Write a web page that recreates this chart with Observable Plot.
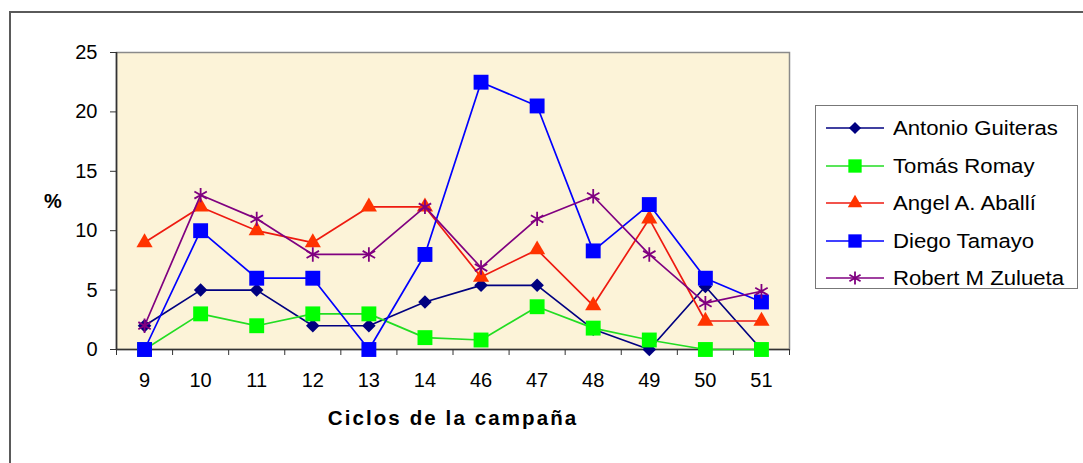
<!DOCTYPE html>
<html>
<head>
<meta charset="utf-8">
<script src="https://cdn.jsdelivr.net/npm/d3@7"></script>
<script src="https://cdn.jsdelivr.net/npm/@observablehq/plot@0.6"></script>
<style>
  html, body { margin: 0; padding: 0; background: #fff; }
  body { font-family: "Liberation Sans", Arial, sans-serif; }
  #wrap { position: relative; width: 1083px; height: 463px; overflow: hidden; }
  #border { position: absolute; left: 9px; top: 11px; right: -10px; bottom: -10px; border: 2px solid #5a5a5a; pointer-events: none; }
  #legend { position: absolute; left: 815px; top: 105px; width: 263px; height: 184px; border: 1px solid #777; background: #fff; box-sizing: border-box; }
  .entry { position: absolute; left: 9px; height: 24px; display: flex; align-items: center; }
  .entry svg { display: block; }
  .entry span { display: inline-block; font-size: 20.5px; color: #000; margin-left: 8px; transform: scaleX(1.08); transform-origin: left center; white-space: nowrap; }
</style>
</head>
<body>
<div id="wrap"></div>
<script>
// ---- data ----
const categories = ["9", "10", "11", "12", "13", "14", "46", "47", "48", "49", "50", "51"];
const seriesNames = ["Antonio Guiteras", "Tomás Romay", "Angel A. Aballí", "Diego Tamayo", "Robert M Zulueta"];
const antonioGuiteras = [2, 5, 5, 2, 2, 4, 5.4, 5.4, 1.7, 0, 5.3, 0];
const tomasRomay      = [0, 3, 2, 3, 3, 1, 0.8, 3.6, 1.8, 0.8, 0, 0];
const angelAballi     = [9, 12, 10, 9, 12, 12, 6.1, 8.4, 3.7, 11, 2.4, 2.4];
const diegoTamayo     = [0, 10, 6, 6, 0, 8, 22.5, 20.5, 8.3, 12.2, 6, 4];
const robertZulueta   = [2, 13, 11, 8, 8, 12, 6.9, 11, 12.9, 8, 3.9, 4.9];
const yTicks = [0, 5, 10, 15, 20, 25];
const yLabel = "%";
const xTitle = "Ciclos de la campaña";

// ---- styles ----
const styles = [
  {line: "#000080", fill: "#000080", stroke: "none", symbol: "diamond2", r: 6.1, sym: d3.symbolDiamond2},
  {line: "#22dd22", fill: "#00ff00", stroke: "none", symbol: "square", r: 8.4, sym: d3.symbolSquare},
  {line: "#ee1a10", fill: "#ff3300", stroke: "none", symbol: "triangle", r: 6.0, sym: d3.symbolTriangle},
  {line: "#0000ff", fill: "#0000ff", stroke: "none", symbol: "square", r: 8.4, sym: d3.symbolSquare},
  {line: "#800080", fill: "none", stroke: "#800080", symbol: "asterisk", r: 6.8, sym: d3.symbolAsterisk}
];
const allValues = [antonioGuiteras, tomasRomay, angelAballi, diegoTamayo, robertZulueta];

const series = allValues.map((vals, s) => vals.map((v, i) => ({i, v, s})));

const marks = [
  Plot.frame({fill: "#fcf3d8", stroke: "#8a8a8a", strokeWidth: 1.5}),
  Plot.ruleY([0], {stroke: "#333", strokeWidth: 1.6}),
  Plot.ruleX([-0.5], {stroke: "#333", strokeWidth: 1.6}),
  Plot.axisY({ticks: yTicks, tickSize: 6, tickPadding: 13, fontSize: 20, label: null, stroke: "#333"}),
  Plot.axisX({ticks: d3.range(-0.5, categories.length, 1), tickSize: 6, tickFormat: () => "", label: null, stroke: "#333"}),
  Plot.axisX({ticks: d3.range(categories.length), tickSize: 0, tickPadding: 23, tickFormat: i => categories[i], fontSize: 20, label: null}),
  Plot.text([yLabel], {frameAnchor: "left", dx: -63.5, dy: 1, fontWeight: "bold", fontSize: 20, textAnchor: "middle"}),
  Plot.text([xTitle], {frameAnchor: "bottom", dy: 75, fontWeight: "bold", fontSize: 20.5, className: "xtitle"})
];
series.forEach((data, s) => {
  const st = styles[s];
  marks.push(Plot.line(data, {x: "i", y: "v", stroke: st.line, strokeWidth: 1.7}));
  marks.push(Plot.dot(data, {x: "i", y: "v", symbol: () => st.symbol, r: st.r, fill: st.fill, stroke: st.stroke, strokeWidth: st.stroke === "none" ? 0 : 1.8}));
});

const chart = Plot.plot({
  width: 1083,
  height: 463,
  marginLeft: 116,
  marginRight: 294,
  marginTop: 52,
  marginBottom: 114,
  style: {fontFamily: "'Liberation Sans', Arial, sans-serif", fontSize: "20px", color: "#000", background: "#fff"},
  x: {type: "linear", domain: [-0.5, categories.length - 0.5]},
  y: {domain: [0, 25]},
  symbol: {type: "identity"},
  marks
});
d3.select(chart).selectAll(".xtitle text").attr("letter-spacing", "2.1px");

const wrap = document.getElementById("wrap");
wrap.appendChild(chart);

// legend
const legend = document.createElement("div");
legend.id = "legend";
seriesNames.forEach((name, s) => {
  const st = styles[s];
  const e = document.createElement("div");
  e.className = "entry";
  e.style.top = (22 + s * 37.5 - 12) + "px";
  const svg = d3.create("svg").attr("width", 60).attr("height", 24);
  svg.append("line").attr("x1", 1).attr("x2", 59).attr("y1", 12).attr("y2", 12).attr("stroke", st.line).attr("stroke-width", 1.7);
  svg.append("path")
    .attr("transform", "translate(30,12)")
    .attr("d", d3.symbol(st.sym, Math.PI * st.r * st.r * 0.8)())
    .attr("fill", st.fill).attr("stroke", st.stroke).attr("stroke-width", 1.8);
  e.appendChild(svg.node());
  const t = document.createElement("span");
  t.textContent = name;
  e.appendChild(t);
  legend.appendChild(e);
});
wrap.appendChild(legend);

const border = document.createElement("div");
border.id = "border";
wrap.appendChild(border);
</script>
</body>
</html>
